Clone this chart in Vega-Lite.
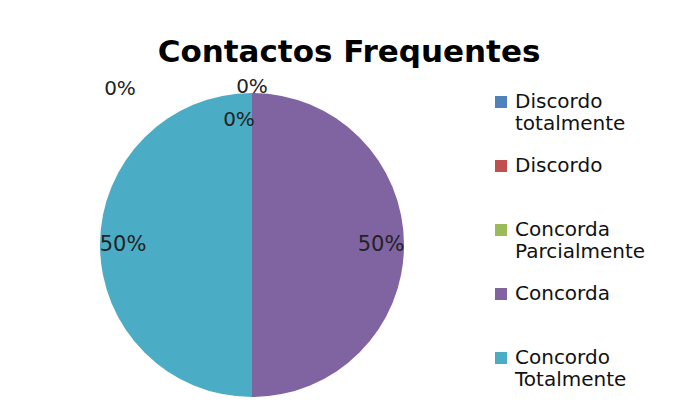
{
  "$schema": "https://vega.github.io/schema/vega-lite/v6.json",
  "width": 504,
  "height": 330,
  "autosize": "none",
  "padding": {"left": 0, "top": 80, "right": 187, "bottom": 7},
  "background": "white",
  "title": {
    "text": "Contactos Frequentes",
    "font": "DejaVu Sans",
    "fontSize": 31,
    "fontWeight": "bold",
    "color": "#000000",
    "anchor": "middle",
    "dx": 97,
    "offset": 8
  },
  "data": {
    "values": [
      {"resposta": "Discordo totalmente", "percent": 0, "ordem": 1},
      {"resposta": "Discordo", "percent": 0, "ordem": 2},
      {"resposta": "Concorda Parcialmente", "percent": 0, "ordem": 3},
      {"resposta": "Concorda", "percent": 0.5, "ordem": 4},
      {"resposta": "Concordo Totalmente", "percent": 0.5, "ordem": 5}
    ]
  },
  "encoding": {
    "theta": {"field": "percent", "type": "quantitative", "stack": true},
    "order": {"field": "ordem", "type": "quantitative"}
  },
  "layer": [
    {
      "mark": {"type": "arc", "outerRadius": 152},
      "encoding": {
        "color": {
          "field": "resposta",
          "type": "nominal",
          "scale": {
            "domain": ["Discordo totalmente", "Discordo", "Concorda Parcialmente", "Concorda", "Concordo Totalmente"],
            "range": ["#4F81BD", "#C0504D", "#9BBB59", "#8064A2", "#4BACC6"]
          },
          "legend": {
            "orient": "none",
            "legendX": 491,
            "legendY": 12,
            "title": null,
            "symbolType": "square",
            "symbolSize": 144,
            "symbolStrokeWidth": 0,
            "labelFont": "DejaVu Sans",
            "labelFontSize": 20,
            "labelColor": "#111111",
            "labelExpr": "split(datum.label, ' ')",
            "labelOffset": 4,
            "gridAlign": "all",
            "rowPadding": 22,
            "labelLimit": 200
          }
        }
      }
    },
    {
      "transform": [{"filter": "datum.percent > 0"}],
      "mark": {"type": "text", "radius": 129, "font": "DejaVu Sans", "fontSize": 21, "color": "#222222"},
      "encoding": {"text": {"field": "percent", "type": "quantitative", "format": ".0%"}}
    },
    {
      "transform": [{"filter": "datum.resposta == 'Discordo'"}],
      "mark": {"type": "text", "radius": 158, "font": "DejaVu Sans", "fontSize": 20, "color": "#222222"},
      "encoding": {"text": {"field": "percent", "type": "quantitative", "format": ".0%"}}
    },
    {
      "transform": [{"filter": "datum.resposta == 'Concorda Parcialmente'"}],
      "mark": {"type": "text", "radius": 125, "dx": -13, "font": "DejaVu Sans", "fontSize": 20, "color": "#222222"},
      "encoding": {"text": {"field": "percent", "type": "quantitative", "format": ".0%"}}
    },
    {
      "transform": [{"filter": "datum.resposta == 'Discordo totalmente'"}],
      "mark": {"type": "text", "radius": 156, "dx": -132, "font": "DejaVu Sans", "fontSize": 20, "color": "#222222"},
      "encoding": {"text": {"field": "percent", "type": "quantitative", "format": ".0%"}}
    }
  ],
  "config": {"view": {"stroke": null}}
}
